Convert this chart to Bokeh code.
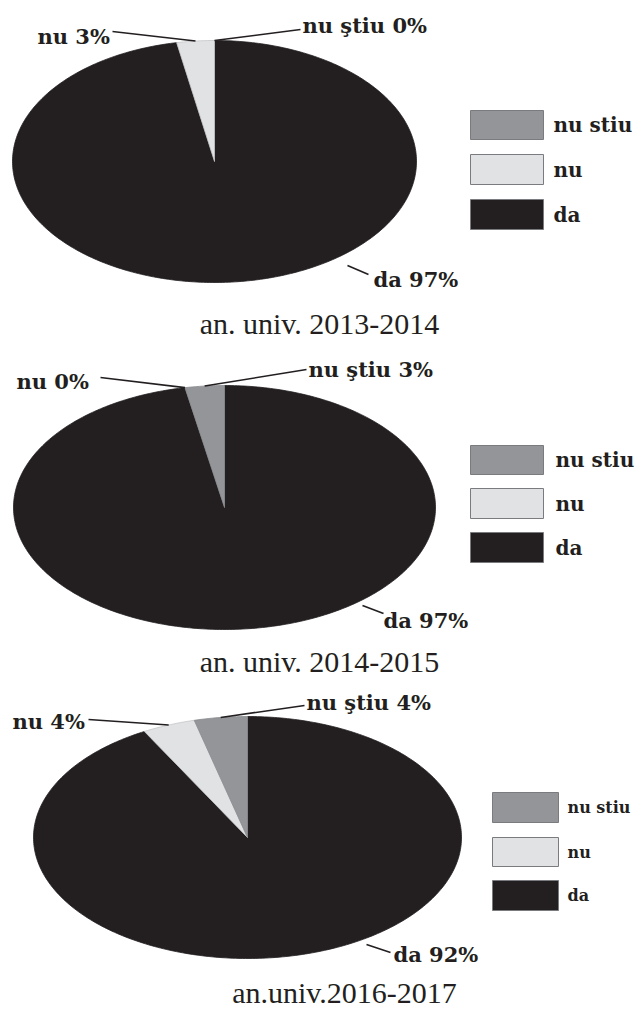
import numpy as np
from bokeh.plotting import figure
from bokeh.models import Range1d
from bokeh.core.properties import value
from bokeh.embed import file_html
from bokeh.resources import INLINE

# ---------------- data ----------------
categories = ["da", "nu", "nu stiu"]          # clockwise order from 12 o'clock
pie_labels = ["da", "nu", "nu ştiu"]
legend_order = ["nu stiu", "nu", "da"]
colors = {"da": "#231f20", "nu": "#e1e2e4", "nu stiu": "#939598"}
edge_colors = {"da": "#231f20", "nu": "#c4c5c8", "nu stiu": "#8a8c8f"}

years = ["an. univ. 2013-2014", "an. univ. 2014-2015", "an.univ.2016-2017"]
values_2013 = [97, 3, 0]
values_2014 = [97, 0, 3]
values_2016 = [92, 4, 4]
all_values = [values_2013, values_2014, values_2016]

# ---------------- layout (reference pixel space) ----------------
pies = [
    dict(cx=214, cy=161, rx=202, ry=121,
         lbl={"nu": (37, 36, 112, 31), "nu stiu": (302, 25, 300, 29)},
         da=(373, 279, 347, 265, 368, 274),
         title=(319, 323),
         leg=dict(x0=470, x1=543, rows=[(110, 139), (154, 184), (199, 229)], tx=553, fs=20)),
    dict(cx=224, cy=507, rx=211, ry=122,
         lbl={"nu": (16, 381, 100, 377), "nu stiu": (308, 369, 306, 369)},
         da=(383, 620, 362, 605, 383, 613),
         title=(319, 661),
         leg=dict(x0=470, x1=543, rows=[(445, 474), (488, 518), (532, 562)], tx=555, fs=20)),
    dict(cx=247, cy=837, rx=214, ry=121,
         lbl={"nu": (12, 721, 88, 719), "nu stiu": (306, 702, 304, 705)},
         da=(393, 954, 366, 944, 390, 952),
         title=(344, 992),
         leg=dict(x0=492, x1=558, rows=[(792, 822), (837, 866), (880, 910)], tx=567, fs=16)),
]

W, H = 636, 1009
p = figure(width=W, height=H, x_range=Range1d(0, W), y_range=Range1d(H, 0),
           output_backend="svg", toolbar_location=None, min_border=0)
p.axis.visible = False
p.grid.visible = False
p.outline_line_color = None
p.background_fill_color = "white"

serif_b = value("DejaVu Serif")
title_font = value("Liberation Serif")


def ell_pt(cx, cy, rx, ry, t):
    return cx + rx * np.sin(t), cy - ry * np.cos(t)


for vals, cfg, title in zip(all_values, pies, years):
    cx, cy, rx, ry = cfg["cx"], cfg["cy"], cfg["rx"], cfg["ry"]
    total = float(sum(vals))
    start = 0.0
    mids = {}
    for cat, v in zip(categories, vals):
        frac = v / total
        a0, a1 = start * 2 * np.pi, (start + frac) * 2 * np.pi
        mids[cat] = (a0 + a1) / 2
        if frac > 0:
            n = max(int(400 * frac), 4)
            t = np.linspace(a0, a1, n)
            xs, ys = ell_pt(cx, cy, rx, ry, t)
            px = np.concatenate([[cx], xs])
            py = np.concatenate([[cy], ys])
            p.patch(px, py, fill_color=colors[cat], line_color=edge_colors[cat], line_width=0.8)
        start += frac

    # small-slice labels with leader lines
    for cat, plab, v in zip(categories, pie_labels, vals):
        if cat == "da":
            continue
        tx, ty, lx, ly = cfg["lbl"][cat]
        ex, ey = ell_pt(cx, cy, rx, ry, mids[cat])
        p.segment(x0=[lx], y0=[ly], x1=[ex], y1=[ey], line_color="#231f20", line_width=1.6)
        p.text(x=[tx], y=[ty], text=[f"{plab} {v}%"], text_font=serif_b, text_font_style="bold",
               text_font_size="21px", text_baseline="middle", text_align="left", text_color="#231f20")

    # da label
    dtx, dty, dx0, dy0, dx1, dy1 = cfg["da"]
    p.segment(x0=[dx0], y0=[dy0], x1=[dx1], y1=[dy1], line_color="#231f20", line_width=1.6)
    p.text(x=[dtx], y=[dty], text=[f"da {vals[0]}%"], text_font=serif_b, text_font_style="bold",
           text_font_size="21px", text_baseline="middle", text_align="left", text_color="#231f20")

    # legend
    lg = cfg["leg"]
    for cat, (top, bot) in zip(legend_order, lg["rows"]):
        p.quad(left=[lg["x0"]], right=[lg["x1"]], top=[top], bottom=[bot],
               fill_color=colors[cat], line_color="#7a7b7e", line_width=1)
        p.text(x=[lg["tx"]], y=[(top + bot) / 2], text=[cat], text_font=serif_b,
               text_font_style="bold", text_font_size=f"{lg['fs']}px", text_baseline="middle",
               text_align="left", text_color="#231f20")

    # title
    ttx, tty = cfg["title"]
    p.text(x=[ttx], y=[tty], text=[title], text_font=title_font, text_font_size="30px",
           text_baseline="middle", text_align="center", text_color="#231f20")

open("out.html", "w").write(file_html(p, INLINE))
